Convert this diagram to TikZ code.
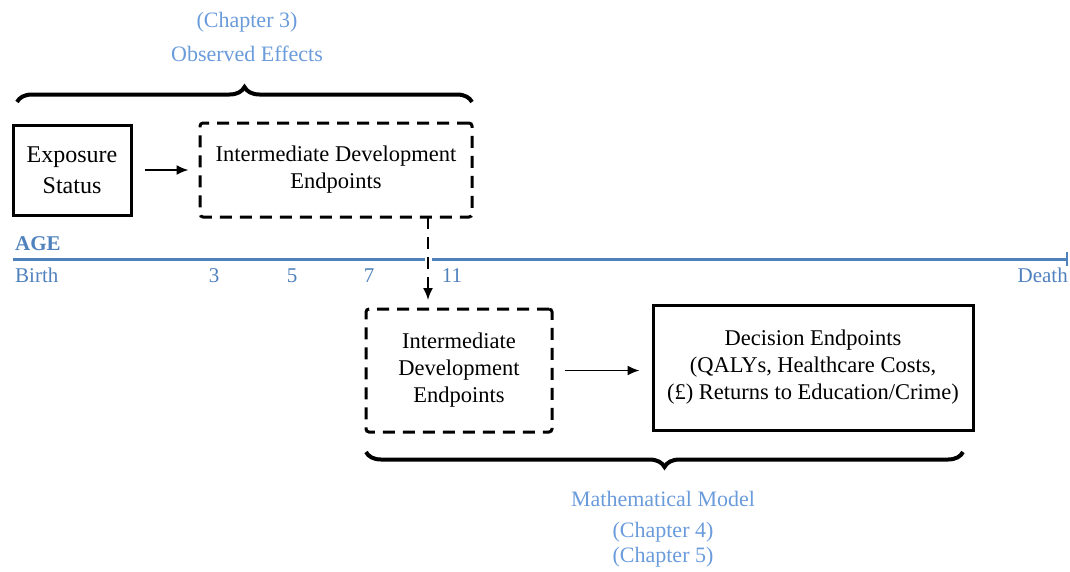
\documentclass[tikz,border=0pt]{standalone}
\usepackage{fontspec}
\setmainfont{Liberation Serif}
\usetikzlibrary{arrows.meta,decorations.pathreplacing}
\definecolor{agecol}{HTML}{4F81BD}
\definecolor{labcol}{HTML}{6A9BDB}
\tikzset{
  solidbox/.style={draw=black, line width=3pt, align=center, inner sep=0pt},
  dashbox/.style={draw=black, line width=3pt, dash pattern=on 12pt off 8pt, rounded corners=3pt, align=center, inner sep=0pt},
  flow/.style={-{Latex[length=12pt,width=10pt]}, line width=1.8pt},
  bracestyle/.style={decorate, decoration={brace, amplitude=15pt}, line width=4pt},
  bluelab/.style={text=labcol, font=\fontsize{22}{26}\selectfont},
  agelab/.style={text=agecol, font=\fontsize{21}{24}\selectfont, inner sep=0pt},
}
\begin{document}
\begin{tikzpicture}[x=1pt,y=-1pt]
\useasboundingbox (0,0) rectangle (1070,571);

% boxes
\node[solidbox, minimum width=118pt, minimum height=90pt, font=\fontsize{24}{31}\selectfont] (expo) at (72,170) {Exposure\\Status};
\node[dashbox, minimum width=272pt, minimum height=94pt, font=\fontsize{22.5}{27}\selectfont] (inter1) at (336,170) {Intermediate Development\\Endpoints};
\node[dashbox, minimum width=186pt, minimum height=123pt, font=\fontsize{22.5}{27}\selectfont] (inter2) at (459,370.5) {Intermediate\\Development\\Endpoints};
\node[solidbox, minimum width=320pt, minimum height=125pt, font=\fontsize{22.5}{27}\selectfont] (dec) at (813,367.5) {Decision Endpoints\\(QALYs, Healthcare Costs,\\(\textsterling) Returns to Education/Crime)};

% age axis
\coordinate (ageL) at (13,259);
\coordinate (ageR) at (1067,259);
\draw[agecol, line width=3pt] (ageL) -- (ageR);
\draw[agecol, line width=2pt] (1067,252) -- (1067,266);
\node[agelab, font=\bfseries\fontsize{21}{24}\selectfont, anchor=base west] (agetxt) at (15,250) {AGE};
\node[agelab, anchor=base west] (birth) at (15,282) {Birth};
\node[agelab, anchor=base] (a3) at (214,282) {3};
\node[agelab, anchor=base] (a5) at (292,282) {5};
\node[agelab, anchor=base] (a7) at (369,282) {7};
\node[agelab, anchor=base] (a11) at (452,282) {11};
\node[agelab, anchor=base east] (death) at (1068,282) {Death};

% connectors
\draw[flow] ([xshift=12pt]expo.east) -- ([xshift=-10pt]inter1.west);
\coordinate (dtop) at (428,217);
\coordinate (dbot) at (428,300);
\draw[line width=7pt, white] (428,250) -- (428,268);
\draw[flow, dash pattern=on 12pt off 8pt] (dtop) -- (dbot);
\draw[flow] ([xshift=11pt]inter2.east) -- ([xshift=-12pt]inter2.east -| dec.west);

% braces
\draw[bracestyle] (17,102) -- (472,102);
\draw[bracestyle] (963,452) -- (366,452);

% brace labels
\node[bluelab] (ch3) at (247,22) {(Chapter 3)};
\node[bluelab] (obs) at (247,54) {Observed Effects};
\node[bluelab] (math) at (663,499) {Mathematical Model};
\node[bluelab] (ch4) at (663,532) {(Chapter 4)};
\node[bluelab] (ch5) at (663,557) {(Chapter 5)};
\end{tikzpicture}
\end{document}
